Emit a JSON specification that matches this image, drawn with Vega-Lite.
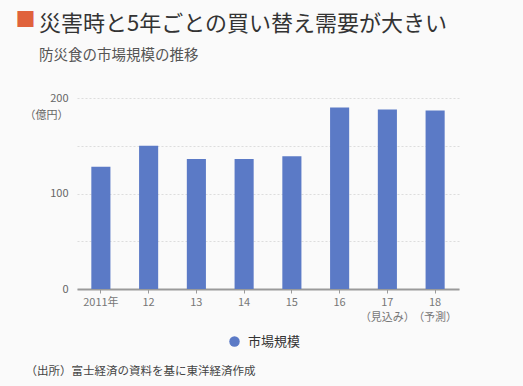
{
  "$schema": "https://vega.github.io/schema/vega-lite/v6.json",
  "width": 382,
  "height": 191,
  "autosize": {"type": "none"},
  "padding": {"left": 77, "top": 98, "right": 64, "bottom": 97},
  "background": "#fafafa",
  "config": {
    "font": "Noto Sans CJK JP",
    "view": {"stroke": null}
  },
  "title": {
    "text": "災害時と5年ごとの買い替え需要が大きい",
    "subtitle": "防災食の市場規模の推移",
    "anchor": "start",
    "frame": "group",
    "dx": -38,
    "offset": -53,
    "fontSize": 22,
    "fontWeight": "normal",
    "color": "#333333",
    "subtitleFontSize": 14.5,
    "subtitleColor": "#555555",
    "subtitlePadding": 13
  },
  "data": {
    "values": [
      {"年": "2011年", "系列": "市場規模", "億円": 128},
      {"年": "12", "系列": "市場規模", "億円": 150},
      {"年": "13", "系列": "市場規模", "億円": 136},
      {"年": "14", "系列": "市場規模", "億円": 136},
      {"年": "15", "系列": "市場規模", "億円": 139},
      {"年": "16", "系列": "市場規模", "億円": 190},
      {"年": "17\n（見込み）", "系列": "市場規模", "億円": 188},
      {"年": "18\n（予測）", "系列": "市場規模", "億円": 187}
    ]
  },
  "mark": {"type": "bar"},
  "encoding": {
    "x": {
      "field": "年",
      "type": "nominal",
      "sort": null,
      "scale": {"paddingInner": 0.6, "paddingOuter": 0.3},
      "axis": {
        "title": "（出所）富士経済の資料を基に東洋経済作成",
        "titleFontSize": 11.5,
        "titleFontWeight": "normal",
        "titleColor": "#444444",
        "titleAlign": "left",
        "titleAnchor": "start",
        "titleBaseline": "middle",
        "titleX": -52,
        "titleY": 82,
        "labelAngle": 0,
        "labelExpr": "split(datum.label, '\\n')",
        "labelColor": "#777777",
        "labelFontSize": 11,
        "labelLineHeight": 15,
        "labelPadding": 3,
        "domainColor": "#9a9a9a",
        "domainWidth": 2,
        "tickColor": "#9a9a9a",
        "tickSize": 4
      }
    },
    "y": {
      "field": "億円",
      "type": "quantitative",
      "scale": {"domain": [0, 200], "nice": false},
      "axis": {
        "values": [0, 50, 100, 150, 200],
        "labelExpr": "datum.value == 200 ? ['200', '（億円）'] : (datum.value % 100 == 0 ? datum.label : '')",
        "labelColor": "#666666",
        "labelFontSize": 11,
        "labelLineHeight": 17,
        "labelPadding": 9,
        "domain": false,
        "ticks": false,
        "grid": true,
        "gridDash": [2, 2],
        "gridColor": "#dddddd",
        "title": "■",
        "titleColor": "#e0623c",
        "titleFontSize": 20,
        "titleFontWeight": "normal",
        "titleAngle": 0,
        "titleAlign": "left",
        "titleBaseline": "middle",
        "titleX": -62,
        "titleY": -78
      }
    },
    "color": {
      "field": "系列",
      "type": "nominal",
      "scale": {"range": ["#5b7ac6"]},
      "legend": {
        "title": null,
        "orient": "none",
        "legendX": 151,
        "legendY": 237,
        "symbolType": "circle",
        "symbolSize": 110,
        "symbolStrokeWidth": 0,
        "labelFontSize": 13,
        "labelColor": "#333333",
        "labelOffset": 7
      }
    }
  }
}
